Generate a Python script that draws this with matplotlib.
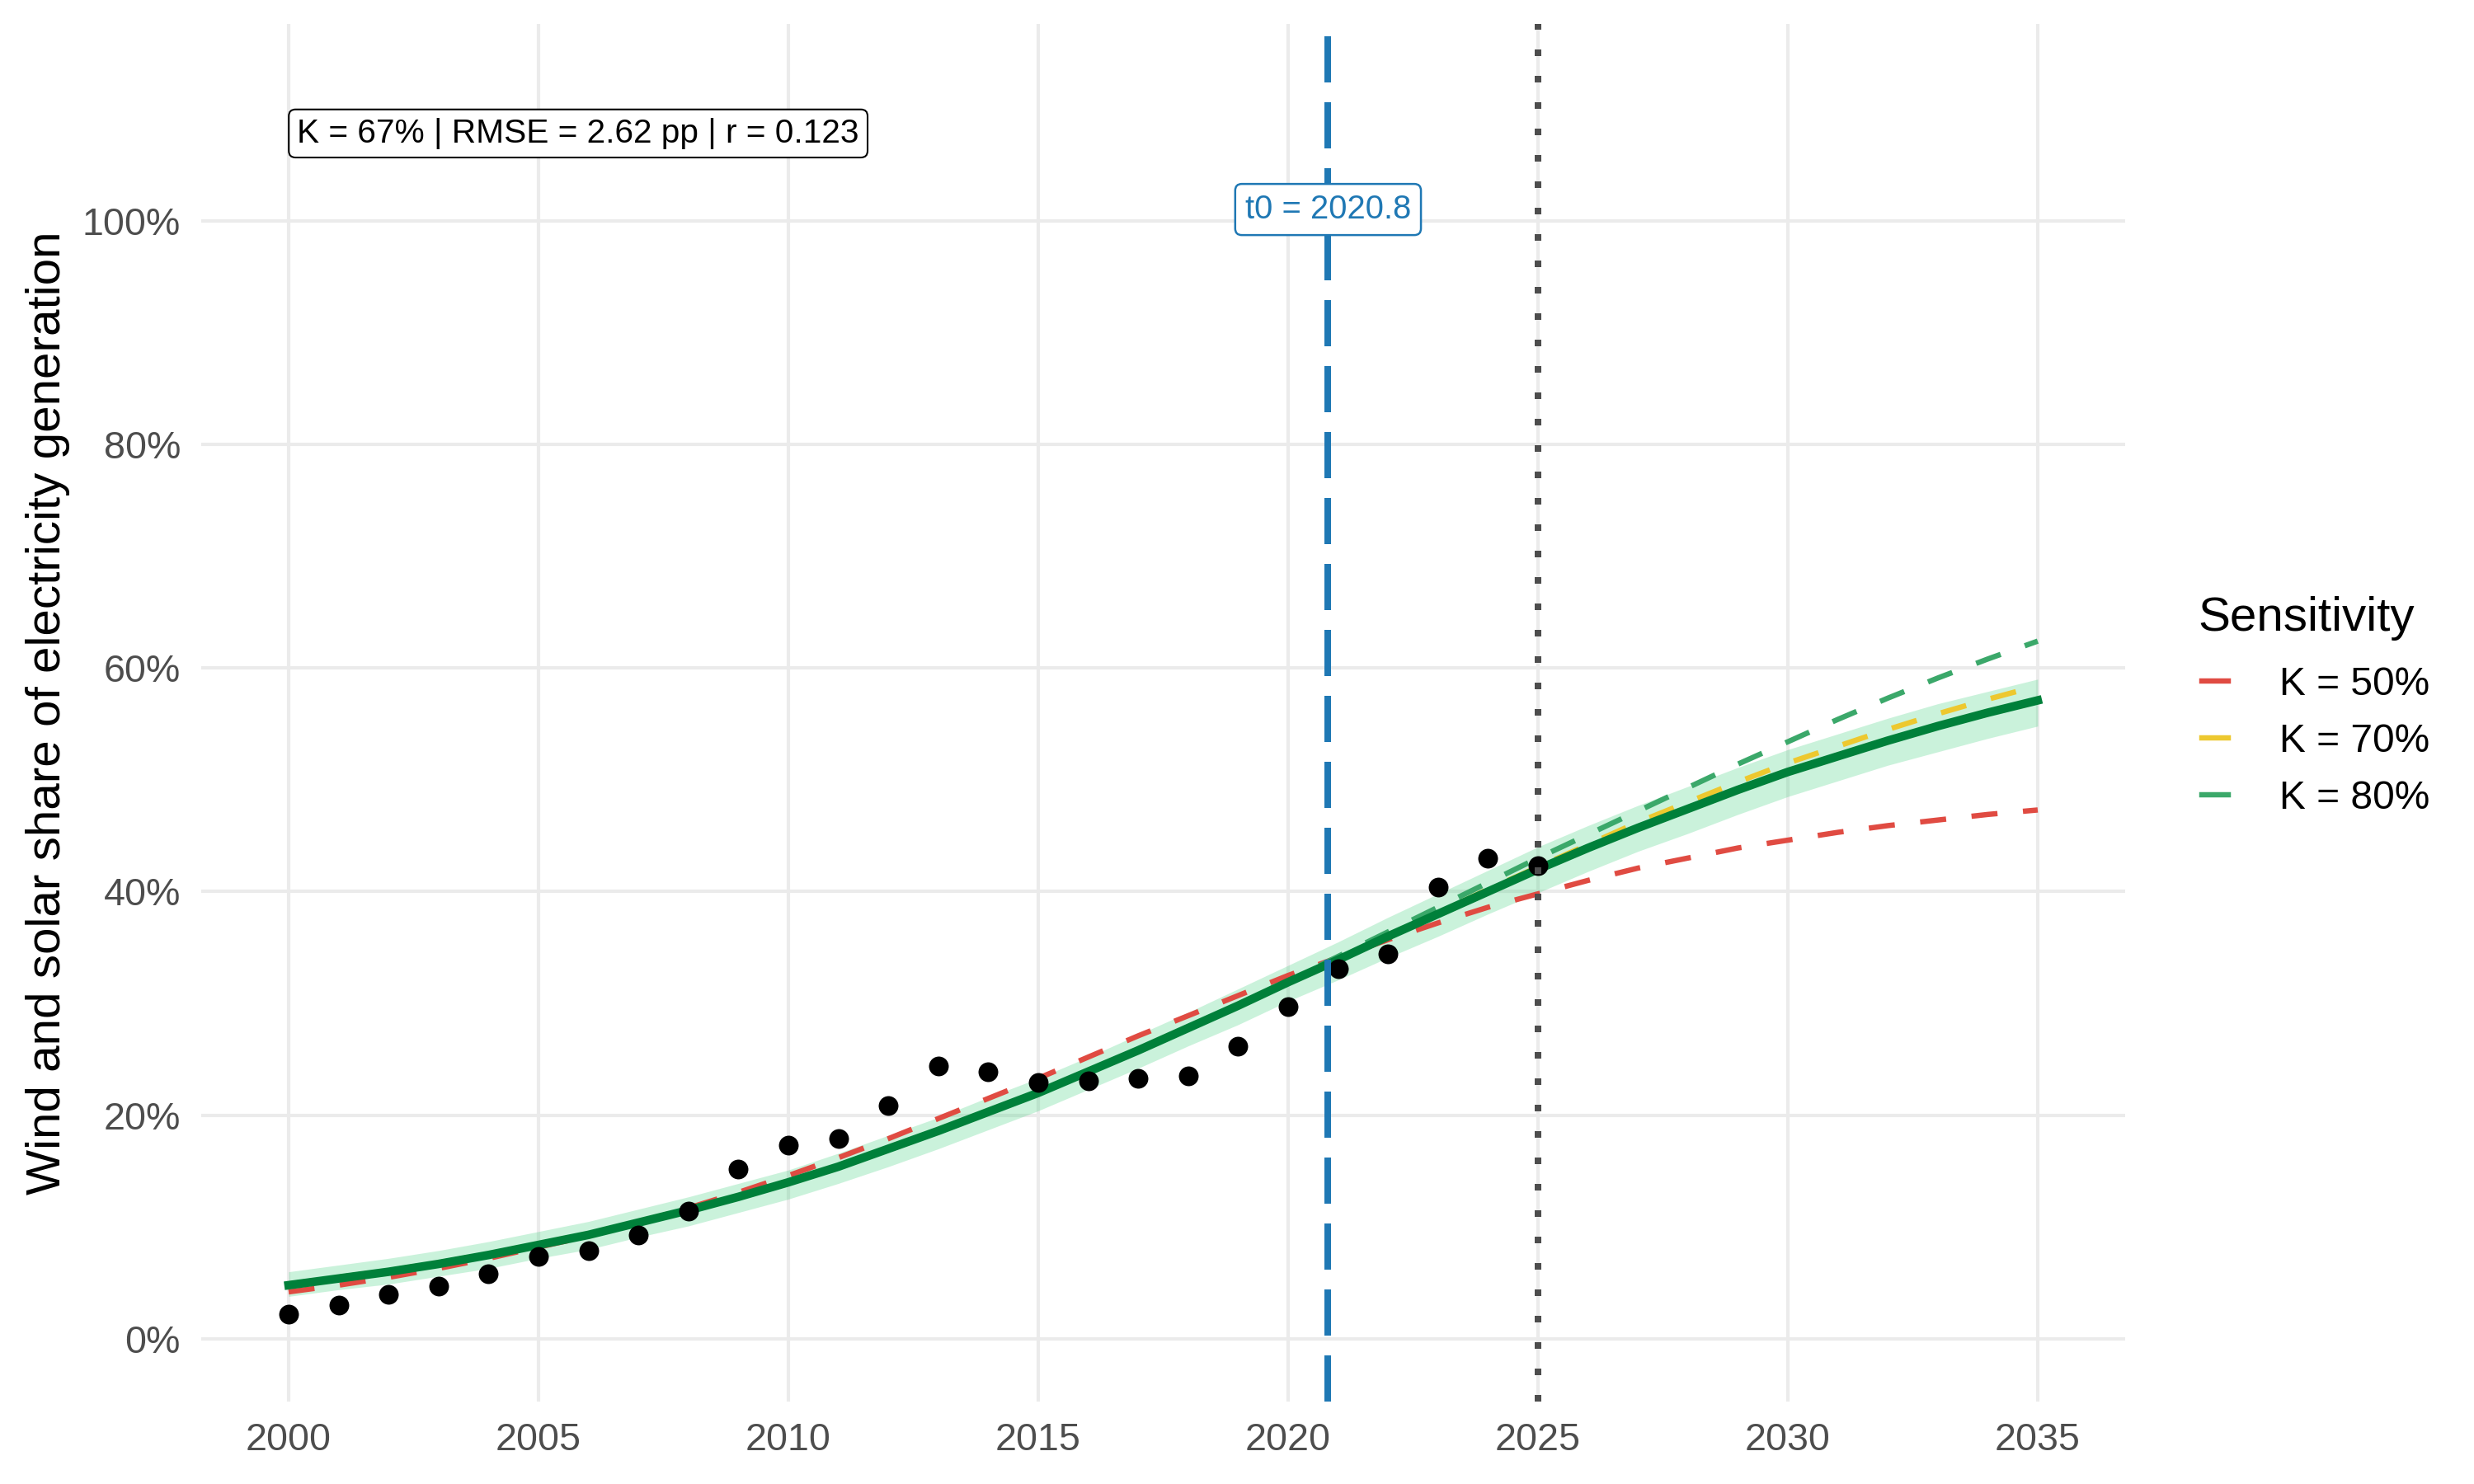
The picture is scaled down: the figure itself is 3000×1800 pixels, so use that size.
import matplotlib.pyplot as plt
from matplotlib.lines import Line2D

plt.rcParams['font.family'] = ['Liberation Sans', 'DejaVu Sans']

# observed share (%)
obs_year = list(range(2000, 2026))
obs_share = [2.2, 3.0, 4.0, 4.7, 5.8, 7.4, 7.9, 9.3, 11.4, 15.2, 17.3, 17.9, 20.9,
             24.4, 23.9, 22.9, 23.1, 23.3, 23.5, 26.2, 29.7, 33.1, 34.4, 40.4, 43.0, 42.3]

# fitted curve and band (%), yearly 2000-2035
fit_year = list(range(2000, 2036))
fit_mid = [4.8, 5.4, 6.0, 6.7, 7.5, 8.4, 9.3, 10.4, 11.5, 12.7, 14.0, 15.4, 17.0, 18.6,
           20.3, 22.0, 23.9, 25.8, 27.8, 29.8, 31.9, 33.9, 36.0, 38.0, 40.0, 42.0, 43.9,
           45.7, 47.4, 49.1, 50.7, 52.1, 53.5, 54.8, 56.0, 57.1]
fit_hi = [6.0, 6.6, 7.2, 7.9, 8.7, 9.6, 10.5, 11.6, 12.7, 13.9, 15.1, 16.6, 18.2, 19.8,
          21.6, 23.3, 25.2, 27.2, 29.2, 31.3, 33.4, 35.5, 37.7, 39.8, 41.9, 44.0, 45.9,
          47.7, 49.4, 51.1, 52.7, 54.1, 55.5, 56.8, 57.9, 59.0]
fit_lo = [3.8, 4.4, 4.9, 5.6, 6.3, 7.2, 8.0, 9.1, 10.1, 11.3, 12.5, 13.9, 15.4, 17.0,
          18.7, 20.4, 22.3, 24.2, 26.2, 28.1, 30.2, 32.1, 34.1, 36.0, 38.0, 39.9, 41.8,
          43.6, 45.2, 46.9, 48.5, 49.9, 51.3, 52.5, 53.7, 54.8]

# sensitivity runs (%)
k50 = [4.2, 4.8, 5.5, 6.3, 7.2, 8.2, 9.2, 10.4, 11.7, 13.1, 14.6, 16.2, 17.9, 19.7,
       21.5, 23.3, 25.2, 27.1, 28.9, 30.7, 32.5, 34.1, 35.7, 37.2, 38.6, 39.8, 41.0,
       42.1, 43.0, 43.9, 44.6, 45.3, 45.9, 46.4, 46.9, 47.3]
k70 = [4.9, 5.5, 6.1, 6.8, 7.6, 8.5, 9.4, 10.5, 11.6, 12.8, 14.1, 15.5, 17.0, 18.6,
       20.3, 22.0, 23.9, 25.8, 27.8, 29.8, 31.9, 34.0, 36.1, 38.1, 40.2, 42.2, 44.2,
       46.2, 48.0, 49.8, 51.5, 53.0, 54.5, 55.9, 57.2, 58.4]
k80 = [4.9, 5.5, 6.1, 6.8, 7.6, 8.4, 9.4, 10.4, 11.5, 12.7, 14.0, 15.4, 16.9, 18.5,
       20.2, 22.0, 23.9, 25.8, 27.8, 29.9, 32.0, 34.2, 36.4, 38.6, 40.8, 43.0, 45.1,
       47.2, 49.3, 51.4, 53.4, 55.4, 57.3, 59.1, 60.8, 62.4]
sens_labels = ['K = 50%', 'K = 70%', 'K = 80%']
sens_colors = ['#E04B42', '#EDC82F', '#3BA86A']

t0 = 2020.8
cutoff = 2025
stats_text = 'K = 67% | RMSE = 2.62 pp | r = 0.123'

fig = plt.figure(figsize=(10, 6), dpi=300)
ax = fig.add_axes([0.0813, 0.0556, 0.7777, 0.9283])

ax.fill_between(fit_year, fit_lo, fit_hi, color='#2ECC71', alpha=0.25, lw=0, zorder=2)
for vals, col in zip([k50, k70, k80], sens_colors):
    ax.plot(fit_year, vals, color=col, lw=1.55, dashes=(4.9, 4.8), zorder=3)
ax.plot(fit_year, fit_mid, color='#00803A', lw=2.5, zorder=4)
ax.scatter(obs_year, obs_share, s=33, color='black', lw=0, zorder=5)

ax.axvline(t0, color='#1F78B4', lw=1.92, dashes=(7.0, 3.0), zorder=6)
ax.axvline(cutoff, color='#4D4D4D', lw=1.92, dashes=(1.0, 3.0), zorder=6)

ax.text(t0, 101, f't0 = {t0}', color='#1F78B4', fontsize=9.6, ha='center', va='center',
        zorder=7, bbox=dict(boxstyle='round,pad=0.3,rounding_size=0.2', fc='white',
                            ec='#1F78B4', lw=0.6))
ax.annotate(stats_text, xy=(2000, 107.8), xytext=(2.5, 0), textcoords='offset points',
            fontsize=9.75, ha='left', va='center', color='black', zorder=7,
            bbox=dict(boxstyle='round,pad=0.25,rounding_size=0.2', fc='white',
                      ec='black', lw=0.5))

ax.set_xlim(1998.25, 2036.75)
ax.set_ylim(-5.6, 117.6)
ax.set_xticks(range(2000, 2040, 5))
ax.set_yticks(range(0, 120, 20))
ax.set_yticklabels([f'{v}%' for v in range(0, 120, 20)])
ax.tick_params(length=0, labelsize=11.2, labelcolor='#4D4D4D', pad=6)
ax.grid(True, color='#EBEBEB', lw=1.0, zorder=0)
ax.set_axisbelow(True)
for s in ax.spines.values():
    s.set_visible(False)
ax.set_ylabel('Wind and solar share of electricity generation', fontsize=14, labelpad=3.5)

# legend: title as its own text so the gap to the keys can match
fig.text(0.8883, 0.575, 'Sensitivity', fontsize=14, ha='left', va='baseline')
handles = [Line2D([], [], color=c, lw=1.55) for c in sens_colors]
fig.legend(handles, sens_labels, loc='upper left', bbox_to_anchor=(0.89, 0.551),
           frameon=False, fontsize=11.5, borderpad=0, borderaxespad=0,
           handlelength=0.67, handletextpad=1.3, labelspacing=0.5)

fig.savefig('out.png', dpi=300)
